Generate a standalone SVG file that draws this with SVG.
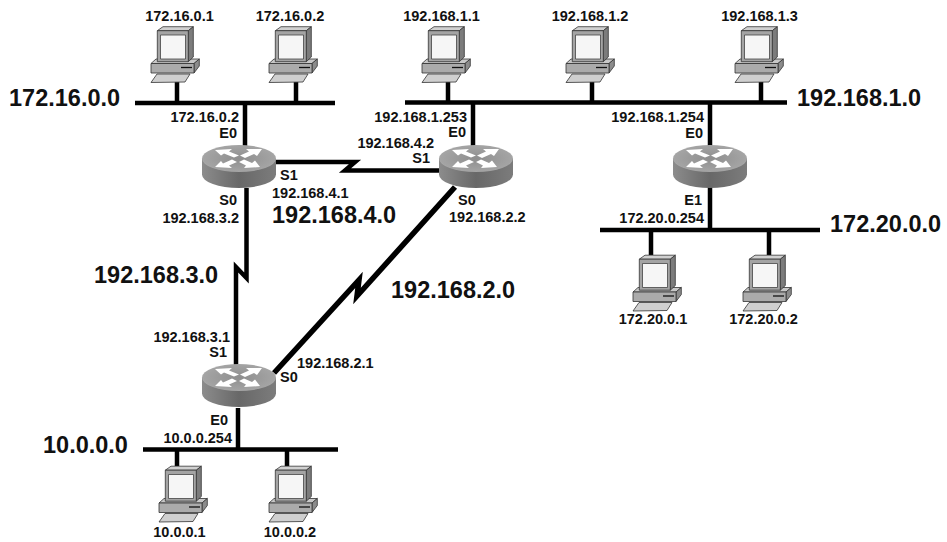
<svg xmlns="http://www.w3.org/2000/svg" width="947" height="542" viewBox="0 0 947 542">
<style>
text{font-family:"Liberation Sans",Arial,sans-serif;font-weight:bold;fill:#111}
.s{font-size:14.500px}
.b{font-size:23.500px}
.m{text-anchor:middle}
.e{text-anchor:end}
.w{fill:none;stroke:#000;stroke-width:4.500;stroke-linejoin:miter}
</style>
<defs>
<linearGradient id="side" x1="0" x2="1" y1="0" y2="0"><stop offset="0" stop-color="#8c8c8c"/><stop offset="0.5" stop-color="#686868"/><stop offset="1" stop-color="#7c7c7c"/></linearGradient>
<radialGradient id="top" cx="0.5" cy="0.5" r="0.6"><stop offset="0" stop-color="#8e8e8e"/><stop offset="0.8" stop-color="#a4a4a4"/><stop offset="1" stop-color="#c8c8c8"/></radialGradient>
<g id="pc" stroke="#333" stroke-width="0.8" stroke-linejoin="round">
<polygon points="0,37.500 5,33 48.300,33 43,37.500" fill="#c8c8c8"/>
<polygon points="43,37.500 48.300,33 48.300,40 43,47" fill="#8c8c8c"/>
<rect x="0" y="37.500" width="43" height="9.500" fill="#ababab"/>
<line x1="30" y1="41.500" x2="41" y2="41.500" stroke="#111" stroke-width="1.300"/>
<polygon points="6,48 39,48 34,56 0,56.500" fill="#cfcfcf"/>
<polygon points="6.300,4.700 12,0.700 42.300,0.700 37.300,4.700" fill="#d0d0d0"/>
<polygon points="37.300,4.700 42.300,0.700 42.300,31 37.300,35.700" fill="#7c7c7c"/>
<rect x="6.300" y="4.700" width="31" height="31" fill="#a4a4a4"/>
<rect x="9.500" y="9" width="25" height="24" fill="#f6f6f6" stroke="#444"/>
</g>
<g id="router">
<path d="M0,13.500 V29.500 A37,13.500 0 0 0 74,29.500 V13.500 Z" fill="url(#side)"/>
<ellipse cx="37" cy="13.500" rx="37" ry="13.500" fill="url(#top)"/>
<g fill="#fff">
<polygon points="13,5 30,4 27,6.500 37,10.500 32,12.500 22,8.500 19,10.500"/>
<polygon points="60,4 44,4 47,6.500 38,10.500 43,13 52,9 55,11"/>
<polygon points="13,22 30,23 27,20.500 35,17 30,14.500 21,18.500 19,16"/>
<polygon points="58,22 42,23 44,20.500 37,17 42,14.500 50,18 53,15.500"/>
</g>
</g>
</defs>
<rect width="947" height="542" fill="#fff"/>
<g id="connectors">
<path class="w" d="M135,103H335M177,82V103M296,82V103M245,103V146"/>
<path class="w" d="M405,102.500H787M448,82V102M592,82V102M761,82V102M473,102V146M710,102V146"/>
<path class="w" d="M600,230H820M651,230V255M769,230V255M710,187V230"/>
<path class="w" d="M143,449.500H338M177,449.500V466M287,449.500V466M238,408V449.500"/>
<path class="w" d="M276,162H355L345,170.500H439"/>
<path class="w" d="M246.500,188V278L236,267V365"/>
<path class="w" style="stroke-width:5.500" d="M455,187L357,296L359,280L274,373"/>
</g>
<g id="pc1"><use href="#pc" x="151" y="26"/><text class="s m" x="179.500" y="21">172.16.0.1</text></g>
<g id="pc2"><use href="#pc" x="269" y="26"/><text class="s m" x="290" y="21">172.16.0.2</text></g>
<g id="pc3"><use href="#pc" x="422" y="26"/><text class="s m" x="441.500" y="21">192.168.1.1</text></g>
<g id="pc4"><use href="#pc" x="566" y="26"/><text class="s m" x="590" y="21">192.168.1.2</text></g>
<g id="pc5"><use href="#pc" x="735" y="26"/><text class="s m" x="759.500" y="21">192.168.1.3</text></g>
<g id="pc6"><use href="#pc" x="633" y="254.500"/><text class="s m" x="653" y="324">172.20.0.1</text></g>
<g id="pc7"><use href="#pc" x="743" y="254.500"/><text class="s m" x="763.500" y="324">172.20.0.2</text></g>
<g id="pc8"><use href="#pc" x="159" y="465.500"/><text class="s m" x="179.500" y="537">10.0.0.1</text></g>
<g id="pc9"><use href="#pc" x="269" y="465.500"/><text class="s m" x="290" y="537">10.0.0.2</text></g>
<g id="r1"><use href="#router" x="202" y="145"/></g>
<g id="r2"><use href="#router" x="439" y="145"/></g>
<g id="r3"><use href="#router" x="673" y="145"/></g>
<g id="r4"><use href="#router" x="202" y="364"/></g>
<g id="labels">
<text class="b" x="9" y="106">172.16.0.0</text>
<text class="b" x="797" y="106">192.168.1.0</text>
<text class="b" x="830" y="232">172.20.0.0</text>
<text class="b" x="43" y="453">10.0.0.0</text>
<text class="b" x="272" y="223">192.168.4.0</text>
<text class="b" x="94" y="283">192.168.3.0</text>
<text class="b" x="391" y="298">192.168.2.0</text>
<text class="s e" x="239" y="122">172.16.0.2</text>
<text class="s e" x="237" y="138">E0</text>
<text class="s" x="280" y="180">S1</text>
<text class="s" x="272" y="198">192.168.4.1</text>
<text class="s e" x="237" y="205">S0</text>
<text class="s e" x="239" y="223">192.168.3.2</text>
<text class="s e" x="467" y="122">192.168.1.253</text>
<text class="s e" x="466" y="137">E0</text>
<text class="s e" x="434" y="148">192.168.4.2</text>
<text class="s e" x="430" y="163">S1</text>
<text class="s" x="458" y="205">S0</text>
<text class="s" x="449" y="222">192.168.2.2</text>
<text class="s e" x="704" y="122">192.168.1.254</text>
<text class="s e" x="703" y="138">E0</text>
<text class="s e" x="702" y="205">E1</text>
<text class="s e" x="704" y="223">172.20.0.254</text>
<text class="s e" x="230" y="342">192.168.3.1</text>
<text class="s e" x="227" y="357">S1</text>
<text class="s" x="280" y="382">S0</text>
<text class="s" x="297" y="368">192.168.2.1</text>
<text class="s e" x="228" y="425">E0</text>
<text class="s e" x="232" y="443">10.0.0.254</text>
</g>
</svg>
